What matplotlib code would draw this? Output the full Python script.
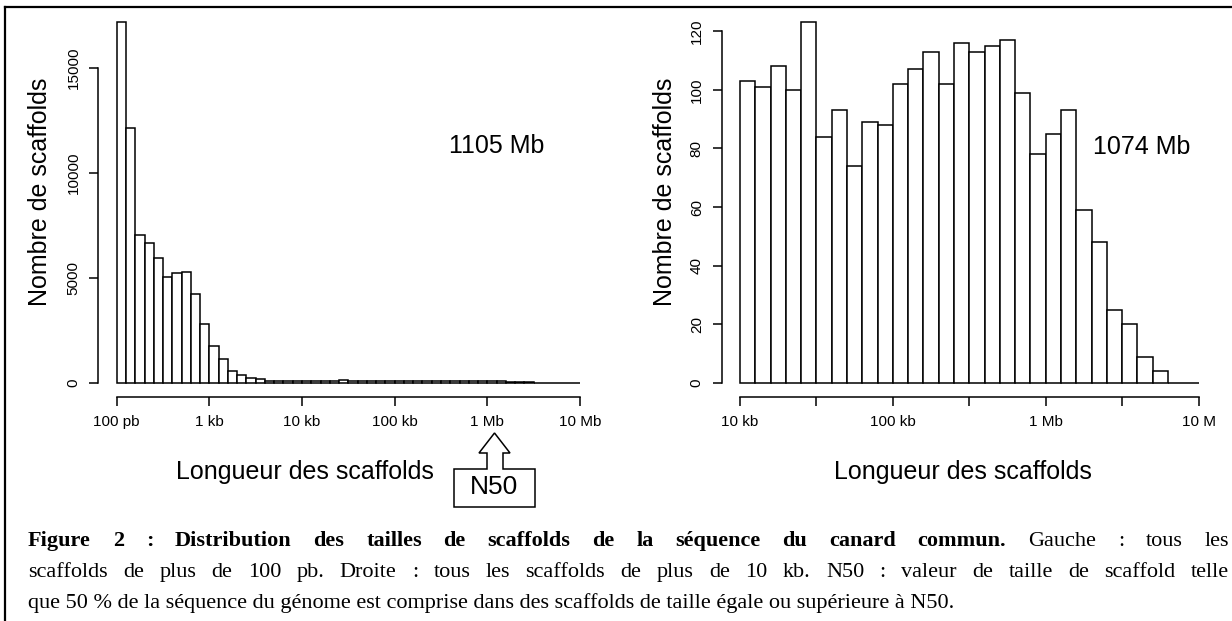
import numpy as np
import matplotlib.pyplot as plt
from matplotlib.patches import Polygon
from matplotlib.ticker import NullLocator

plt.rcParams['font.family'] = ['Liberation Sans', 'DejaVu Sans']

# histogram bins: 10 per decade (log10 of scaffold length)
left_bin_edges = 10 ** np.round(np.arange(2.0, 7.05, 0.1), 1)
right_bin_edges = 10 ** np.round(np.arange(4.0, 7.05, 0.1), 1)

# counts > 10 kb (right panel), also the tail of the left panel
right_counts = [103, 101, 108, 100, 123, 84, 93, 74, 89, 88,
                102, 107, 113, 102, 116, 113, 115, 117, 99, 78,
                85, 93, 59, 48, 25, 20, 9, 4, 0, 0]
# counts 100 pb - 10 kb
left_counts_short = [17150, 12150, 7050, 6650, 5950, 5050, 5230, 5280, 4220, 2790,
                     1770, 1130, 570, 370, 260, 170, 100, 85, 80, 75]
left_counts = left_counts_short + right_counts

left_xticks = [1e2, 1e3, 1e4, 1e5, 1e6, 1e7]
left_xlabels = ['100 pb', '1 kb', '10 kb', '100 kb', '1 Mb', '10 Mb']
left_yticks = [0, 5000, 10000, 15000]
right_xticks = [1e4, 10 ** 4.5, 1e5, 10 ** 5.5, 1e6, 10 ** 6.5, 1e7]
right_xlabels = ['10 kb', '', '100 kb', '', '1 Mb', '', '10 M']
right_yticks = [0, 20, 40, 60, 80, 100, 120]

W, H = 1232, 621
fig = plt.figure(figsize=(W / 100, H / 100), dpi=100)


def px(x, y):
    return x / W, 1 - y / H


def r_hist(ax, edges, counts, xticks, xlabels, yticks, xlim_log):
    ax.bar(edges[:-1], counts, width=np.diff(edges), align='edge',
           color='white', edgecolor='black', linewidth=1.1)
    ax.set_xscale('log')
    ax.set_xlim(10 ** xlim_log[0], 10 ** xlim_log[1])
    top = max(counts)
    ax.set_ylim(-0.04 * top, 1.04 * top)
    ax.xaxis.set_minor_locator(NullLocator())
    ax.set_xticks(xticks)
    ax.set_xticklabels(xlabels)
    ax.set_yticks(yticks)
    ax.set_yticklabels([str(v) for v in yticks])
    for s in ['top', 'right']:
        ax.spines[s].set_visible(False)
    ax.spines['left'].set_bounds(yticks[0], yticks[-1])
    ax.spines['bottom'].set_bounds(xticks[0], xticks[-1])
    for s in ['left', 'bottom']:
        ax.spines[s].set_linewidth(1.1)
    ax.tick_params(direction='out', length=6.8, width=1.1, labelsize=11, pad=6)
    for lbl in ax.get_yticklabels():
        lbl.set_rotation(90)
        lbl.set_va('center')


axL = fig.add_axes([98.2 / W, 1 - 397.4 / H, 500.3 / W, 389.4 / H])
r_hist(axL, left_bin_edges, left_counts, left_xticks, left_xlabels, left_yticks, (1.8, 7.2))

axR = fig.add_axes([721.6 / W, 1 - 397.4 / H, 495.4 / W, 389.4 / H])
r_hist(axR, right_bin_edges, right_counts, right_xticks, right_xlabels, right_yticks, (3.88, 7.12))

# axis titles and annotations
lab = dict(fontsize=18, ha='center', va='center')
fig.text(*px(40, 192), 'Nombre de scaffolds', rotation=90, **lab)
fig.text(*px(665, 192), 'Nombre de scaffolds', rotation=90, **lab)
fig.text(*px(305, 472), 'Longueur des scaffolds', **lab)
fig.text(*px(963, 472), 'Longueur des scaffolds', **lab)
fig.text(*px(497, 146), '1105 Mb', **lab)
fig.text(*px(1142, 147), '1074 Mb', **lab)

# N50 callout pointing at 1 Mb
callout = [(494.5, 433), (510, 453), (503, 453), (503, 469), (535, 469), (535, 507),
           (454, 507), (454, 469), (487, 469), (487, 453), (479, 453)]
fig.patches.append(Polygon([px(x, y) for x, y in callout], closed=True, transform=fig.transFigure,
                           facecolor='white', edgecolor='black', linewidth=1.1))
fig.text(*px(494.5, 487), 'N50', fontsize=19, ha='center', va='center')

# frame (top and left edges)
fig.add_artist(plt.Line2D([5 / W, 1.0], [1 - 7 / H, 1 - 7 / H], transform=fig.transFigure,
                          color='black', linewidth=1.6))
fig.add_artist(plt.Line2D([5 / W, 5 / W], [1 - 7 / H, 0.0], transform=fig.transFigure,
                          color='black', linewidth=1.6))

# caption, justified like the source document
cap_font = dict(family='Liberation Serif', fontsize=16)
line1 = [(w, 'bold') for w in 'Figure 2 : Distribution des tailles de scaffolds de la séquence du canard commun.'.split()]
line1 += [(w, 'normal') for w in 'Gauche : tous les'.split()]
line2 = [(w, 'normal') for w in 'scaffolds de plus de 100 pb. Droite : tous les scaffolds de plus de 10 kb. N50 : valeur de taille de scaffold telle'.split()]
line3 = 'que 50 % de la séquence du génome est comprise dans des scaffolds de taille égale ou supérieure à N50.'

renderer = fig.canvas.get_renderer()


def justified(words, y, x0, x1):
    texts = [fig.text(0, 0, w, fontweight=wt, va='baseline', **cap_font) for w, wt in words]
    widths = [t.get_window_extent(renderer).width for t in texts]
    gap = (x1 - x0 - sum(widths)) / (len(words) - 1)
    x = x0
    for t, wd in zip(texts, widths):
        t.set_position(px(x, y))
        x += wd + gap


justified(line1, 546, 28, 1229)
justified(line2, 577, 28, 1229)
fig.text(*px(28, 608), line3, va='baseline', **cap_font)

fig.savefig('out.png', dpi=100)
